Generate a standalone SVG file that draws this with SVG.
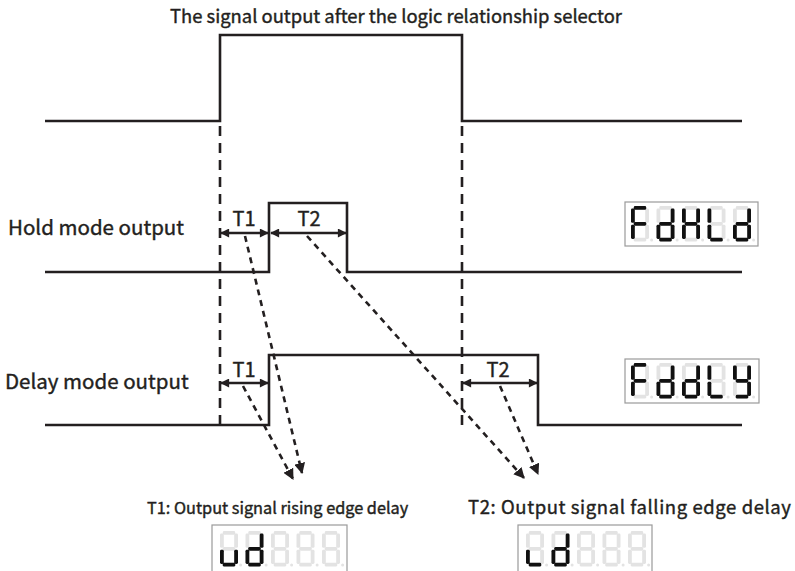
<svg xmlns="http://www.w3.org/2000/svg" xmlns:xlink="http://www.w3.org/1999/xlink" width="795" height="571" viewBox="0 0 795 571">
<style>
.wave{fill:none;stroke:#231f20;stroke-width:2.6;stroke-linejoin:miter}
.vdash{fill:none;stroke:#231f20;stroke-width:2.6;stroke-dasharray:10 7}
.tarr{fill:none;stroke:#231f20;stroke-width:2.4}
.darr{fill:none;stroke:#231f20;stroke-width:2.6;stroke-dasharray:6 5}
.lbl{font-family:"Noto Sans CJK SC","Noto Sans",sans-serif;fill:#231f20;font-weight:400;stroke:#231f20;stroke-width:0.4}
.box{fill:#fff;stroke:#9a9a9a;stroke-width:1.2}
.off{fill:#e3e3e3}
.on{fill:#111}
</style>
<defs>
<marker id="ah" viewBox="0 0 10 10" refX="9" refY="5" markerWidth="10" markerHeight="9" markerUnits="userSpaceOnUse" orient="auto-start-reverse"><path d="M0,0 L10,5 L0,10 z" fill="#231f20"/></marker>
<marker id="dh" viewBox="0 0 10 10" refX="9" refY="5" markerWidth="11" markerHeight="11" markerUnits="userSpaceOnUse" orient="auto"><path d="M0,0 L10,5 L0,10 z" fill="#231f20"/></marker>
<rect id="sa" x="2.8" y="0" width="12.4" height="3.8" rx="1.4"/>
<rect id="sb" x="14.2" y="2.6" width="3.8" height="14.2" rx="1.4"/>
<rect id="sc" x="14.2" y="18.8" width="3.8" height="14.2" rx="1.4"/>
<rect id="sd" x="2.8" y="31.8" width="12.4" height="3.8" rx="1.4"/>
<rect id="se" x="0" y="18.8" width="3.8" height="14.2" rx="1.4"/>
<rect id="sf" x="0" y="2.6" width="3.8" height="14.2" rx="1.4"/>
<rect id="sg" x="2.8" y="15.9" width="12.4" height="3.8" rx="1.4"/>
<circle id="sp" cx="20.6" cy="34" r="1.5"/>
<g id="d8" class="off"><use xlink:href="#sa"/><use xlink:href="#sb"/><use xlink:href="#sc"/><use xlink:href="#sd"/><use xlink:href="#se"/><use xlink:href="#sf"/><use xlink:href="#sg"/><use xlink:href="#sp"/></g>
</defs>
<rect width="795" height="571" fill="#fff"/>

<text class="lbl" x="396" y="23" font-size="18.4" text-anchor="middle">The signal output after the logic relationship selector</text>

<g id="signal">
<polyline class="wave" points="45,121 220,121 220,35 462,35 462,121 742,121"/>
</g>

<g id="guides">
<line class="vdash" x1="220" y1="126" x2="220" y2="430"/>
<line class="vdash" x1="462" y1="126" x2="462" y2="430"/>
</g>

<g id="hold">
<text class="lbl" x="8" y="235" font-size="20.5">Hold mode output</text>
<polyline class="wave" points="45,272 269,272 269,203 347,203 347,272 742,272"/>
<text class="lbl" x="244" y="226" font-size="20" text-anchor="middle">T1</text>
<text class="lbl" x="309" y="226" font-size="20" text-anchor="middle">T2</text>
</g>

<g id="delay">
<text class="lbl" x="5" y="389" font-size="20.5">Delay mode output</text>
<polyline class="wave" points="45,425 269,425 269,355 538,355 538,425 742,425"/>
<text class="lbl" x="244" y="377" font-size="20" text-anchor="middle">T1</text>
<text class="lbl" x="498" y="377" font-size="20" text-anchor="middle">T2</text>
</g>

<g id="connectors">
<line class="tarr" x1="221" y1="233" x2="268" y2="233" marker-start="url(#ah)" marker-end="url(#ah)"/>
<line class="tarr" x1="271" y1="233" x2="346" y2="233" marker-start="url(#ah)" marker-end="url(#ah)"/>
<line class="tarr" x1="221" y1="383" x2="268" y2="383" marker-start="url(#ah)" marker-end="url(#ah)"/>
<line class="tarr" x1="463" y1="383" x2="537" y2="383" marker-start="url(#ah)" marker-end="url(#ah)"/>
<line class="darr" x1="245" y1="236" x2="302" y2="473" marker-end="url(#dh)"/>
<line class="darr" x1="243" y1="386" x2="293" y2="479" marker-end="url(#dh)"/>
<line class="darr" x1="307" y1="236" x2="524" y2="478" marker-end="url(#dh)"/>
<line class="darr" x1="500" y1="386" x2="538" y2="474" marker-end="url(#dh)"/>
</g>

<g id="labels-bottom">
<text class="lbl" x="147" y="514" font-size="16.3">T1: Output signal rising edge delay</text>
<text class="lbl" x="468" y="514" font-size="18.5" textLength="323" lengthAdjust="spacing">T2: Output signal falling edge delay</text>
</g>

<g id="disp-fdhld">
<rect class="box" x="625" y="202" width="133" height="44"/>
<g transform="translate(631,206)"><use xlink:href="#d8"/><g class="on"><use xlink:href="#sa"/><use xlink:href="#sf"/><use xlink:href="#se"/><use xlink:href="#sg"/></g></g>
<g transform="translate(656.5,206)"><use xlink:href="#d8"/><g class="on"><use xlink:href="#sb"/><use xlink:href="#sc"/><use xlink:href="#sd"/><use xlink:href="#se"/><use xlink:href="#sg"/></g></g>
<g transform="translate(682,206)"><use xlink:href="#d8"/><g class="on"><use xlink:href="#sb"/><use xlink:href="#sc"/><use xlink:href="#se"/><use xlink:href="#sf"/><use xlink:href="#sg"/></g></g>
<g transform="translate(707.5,206)"><use xlink:href="#d8"/><g class="on"><use xlink:href="#sd"/><use xlink:href="#se"/><use xlink:href="#sf"/></g></g>
<g transform="translate(733,206)"><use xlink:href="#d8"/><g class="on"><use xlink:href="#sb"/><use xlink:href="#sc"/><use xlink:href="#sd"/><use xlink:href="#se"/><use xlink:href="#sg"/></g></g>
</g>

<g id="disp-fddly">
<rect class="box" x="625" y="359" width="134" height="44"/>
<g transform="translate(631,363)"><use xlink:href="#d8"/><g class="on"><use xlink:href="#sa"/><use xlink:href="#sf"/><use xlink:href="#se"/><use xlink:href="#sg"/></g></g>
<g transform="translate(656.5,363)"><use xlink:href="#d8"/><g class="on"><use xlink:href="#sb"/><use xlink:href="#sc"/><use xlink:href="#sd"/><use xlink:href="#se"/><use xlink:href="#sg"/></g></g>
<g transform="translate(682,363)"><use xlink:href="#d8"/><g class="on"><use xlink:href="#sb"/><use xlink:href="#sc"/><use xlink:href="#sd"/><use xlink:href="#se"/><use xlink:href="#sg"/></g></g>
<g transform="translate(707.5,363)"><use xlink:href="#d8"/><g class="on"><use xlink:href="#sd"/><use xlink:href="#se"/><use xlink:href="#sf"/></g></g>
<g transform="translate(733,363)"><use xlink:href="#d8"/><g class="on"><use xlink:href="#sb"/><use xlink:href="#sc"/><use xlink:href="#sd"/><use xlink:href="#sf"/><use xlink:href="#sg"/></g></g>
</g>

<g id="disp-ud">
<rect class="box" x="212" y="525" width="135" height="50"/>
<g transform="translate(220,531)"><use xlink:href="#d8"/><g class="on"><use xlink:href="#sc"/><use xlink:href="#sd"/><use xlink:href="#se"/></g></g>
<g transform="translate(245.5,531)"><use xlink:href="#d8"/><g class="on"><use xlink:href="#sb"/><use xlink:href="#sc"/><use xlink:href="#sd"/><use xlink:href="#se"/><use xlink:href="#sg"/></g></g>
<g transform="translate(271,531)"><use xlink:href="#d8"/></g>
<g transform="translate(296.5,531)"><use xlink:href="#d8"/></g>
<g transform="translate(322,531)"><use xlink:href="#d8"/></g>
</g>

<g id="disp-ld">
<rect class="box" x="518" y="525" width="134" height="50"/>
<g transform="translate(526,531)"><use xlink:href="#d8"/><g class="on"><use xlink:href="#sd"/><use xlink:href="#se"/></g></g>
<g transform="translate(551.5,531)"><use xlink:href="#d8"/><g class="on"><use xlink:href="#sb"/><use xlink:href="#sc"/><use xlink:href="#sd"/><use xlink:href="#se"/><use xlink:href="#sg"/></g></g>
<g transform="translate(577,531)"><use xlink:href="#d8"/></g>
<g transform="translate(602.5,531)"><use xlink:href="#d8"/></g>
<g transform="translate(628,531)"><use xlink:href="#d8"/></g>
</g>
</svg>
